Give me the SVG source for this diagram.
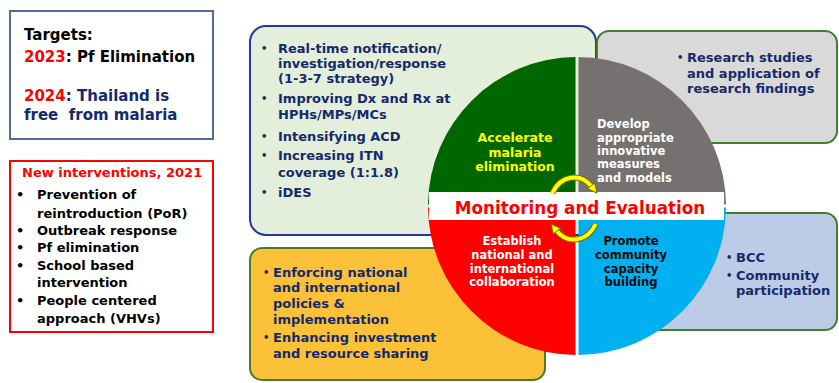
<svg xmlns="http://www.w3.org/2000/svg" width="839" height="383" viewBox="0 0 839 383">
  <style>
    text { font-family: "DejaVu Sans", Verdana, sans-serif; font-weight: bold; }
    .navy { fill: #142a6b; }
    .body { font-size: 13px; }
    .q { font-size: 11.5px; }
    .box { stroke-width: 2; }
  </style>
  <defs>
    <marker id="ah" viewBox="0 0 12 12" refX="2" refY="6" markerWidth="11" markerHeight="11" markerUnits="userSpaceOnUse" orient="auto">
      <path d="M1,1 L11,6 L1,11 Z" fill="#ffff00" stroke="#6f6f00" stroke-width="1"/>
    </marker>
  </defs>

  <rect width="839" height="383" fill="#ffffff"/>

  <!-- Targets -->
  <g id="targets">
    <rect class="box" x="10" y="11" width="203" height="128" fill="#ffffff" stroke="#516c98"/>
    <text x="24" y="40" font-size="15" fill="#000">Targets:</text>
    <text x="24" y="61.5" font-size="15" fill="#000"><tspan fill="#ff0000">2023</tspan>: Pf Elimination</text>
    <text x="24" y="100.5" font-size="15" class="navy"><tspan fill="#ff0000">2024</tspan>: Thailand is</text>
    <text x="24" y="119.5" font-size="15" class="navy" xml:space="preserve">free  from malaria</text>
  </g>

  <!-- New interventions -->
  <g id="new-interventions" class="body">
    <rect class="box" x="10" y="161" width="203" height="171" fill="#ffffff" stroke="#ff0000"/>
    <text x="22" y="177" fill="#ff0000">New interventions, 2021</text>
    <g fill="#000">
      <text x="16" y="199">•</text>
      <text x="16" y="235">•</text>
      <text x="16" y="252">•</text>
      <text x="16" y="270">•</text>
      <text x="16" y="305">•</text>
      <text x="37" y="199">Prevention of</text>
      <text x="37" y="217.5">reintroduction (PoR)</text>
      <text x="37" y="235">Outbreak response</text>
      <text x="37" y="252">Pf elimination</text>
      <text x="37" y="270">School based</text>
      <text x="37" y="287">intervention</text>
      <text x="37" y="305">People centered</text>
      <text x="37" y="323">approach (VHVs)</text>
    </g>
  </g>

  <!-- Surveillance / case management activities -->
  <g id="box-elimination" class="body navy">
    <rect class="box" x="250" y="26" width="346" height="209" rx="16" fill="#e3efdb" stroke="#2636a0"/>
    <g font-size="10">
      <text x="261" y="52">•</text>
      <text x="261" y="102">•</text>
      <text x="261" y="140">•</text>
      <text x="261" y="159">•</text>
      <text x="261" y="196">•</text>
    </g>
    <text x="278" y="53">Real-time notification/</text>
    <text x="278" y="68">investigation/response</text>
    <text x="278" y="83">(1-3-7 strategy)</text>
    <text x="278" y="103">Improving Dx and Rx at</text>
    <text x="278" y="119">HPHs/MPs/MCs</text>
    <text x="278" y="141">Intensifying ACD</text>
    <text x="278" y="160">Increasing ITN</text>
    <text x="278" y="177">coverage (1:1.8)</text>
    <text x="278" y="197">iDES</text>
  </g>

  <!-- Research -->
  <g id="box-research" class="body navy">
    <rect class="box" x="597" y="31" width="240" height="112" rx="12" fill="#d9d9d9" stroke="#3f7f2f"/>
    <text x="677" y="61" font-size="10">•</text>
    <text x="687" y="62">Research studies</text>
    <text x="687" y="78">and application of</text>
    <text x="687" y="93">research findings</text>
  </g>

  <!-- Community -->
  <g id="box-community" class="body navy">
    <rect class="box" x="640" y="213" width="197" height="117" rx="12" fill="#bccbe6" stroke="#3f7f2f"/>
    <text x="726" y="261" font-size="10">•</text>
    <text x="726" y="279" font-size="10">•</text>
    <text x="736" y="262">BCC</text>
    <text x="736" y="280">Community</text>
    <text x="736" y="295">participation</text>
  </g>

  <!-- Policies -->
  <g id="box-policies" class="body navy">
    <rect class="box" x="250" y="248" width="295" height="132" rx="12" fill="#fbc138" stroke="#4a7a2a"/>
    <text x="263" y="276" font-size="10">•</text>
    <text x="263" y="341" font-size="10">•</text>
    <text x="273" y="277">Enforcing national</text>
    <text x="273" y="292">and international</text>
    <text x="273" y="308">policies &amp;</text>
    <text x="273" y="324">implementation</text>
    <text x="273" y="342">Enhancing investment</text>
    <text x="273" y="358">and resource sharing</text>
  </g>

  <!-- Strategy wheel -->
  <g id="wheel">
    <path d="M575.5,204.5 L575.5,57 A149,149 0 0 0 428,204.5 Z" fill="#006600"/>
    <path d="M578.5,204.5 L578.5,57 A149,149 0 0 1 726,204.5 Z" fill="#767171"/>
    <path d="M575.5,207.5 L428,207.5 A149,149 0 0 0 575.5,355 Z" fill="#ff0000"/>
    <path d="M578.5,207.5 L726,207.5 A149,149 0 0 1 578.5,355 Z" fill="#00b0f0"/>

    <g class="q" text-anchor="middle">
      <g font-size="12.5" fill="#ffff00">
        <text x="515" y="142">Accelerate</text>
        <text x="515" y="157">malaria</text>
        <text x="515" y="171">elimination</text>
      </g>
      <g fill="#ffffff">
        <text x="512" y="245">Establish</text>
        <text x="512" y="259">national and</text>
        <text x="512" y="273">international</text>
        <text x="512" y="286">collaboration</text>
      </g>
      <g fill="#0a0a0a">
        <text x="631" y="245">Promote</text>
        <text x="631" y="259">community</text>
        <text x="631" y="273">capacity</text>
        <text x="631" y="286">building</text>
      </g>
    </g>
    <g class="q" fill="#ffffff">
      <text x="597" y="128">Develop</text>
      <text x="597" y="142">appropriate</text>
      <text x="597" y="155">innovative</text>
      <text x="597" y="168">measures</text>
      <text x="597" y="182">and models</text>
    </g>
  </g>

  <!-- Monitoring and Evaluation band -->
  <g id="monitoring">
    <rect x="429" y="192" width="295" height="28" fill="#ffffff"/>
    <text x="580" y="214" text-anchor="middle" font-size="16.8" fill="#ff0000">Monitoring and Evaluation</text>
  </g>

  <!-- Cycle arrows -->
  <g id="connectors" fill="none">
    <path d="M552.4,193 A25,31 0 0 1 591.7,186.6" stroke="#6f6f00" stroke-width="6"/>
    <path d="M595.7,224 A25,31 0 0 1 556.3,230.4" stroke="#6f6f00" stroke-width="6"/>
    <path d="M552.4,193 A25,31 0 0 1 591.7,186.6" stroke="#ffff00" stroke-width="4" marker-end="url(#ah)"/>
    <path d="M595.7,224 A25,31 0 0 1 556.3,230.4" stroke="#ffff00" stroke-width="4" marker-end="url(#ah)"/>
  </g>
</svg>
